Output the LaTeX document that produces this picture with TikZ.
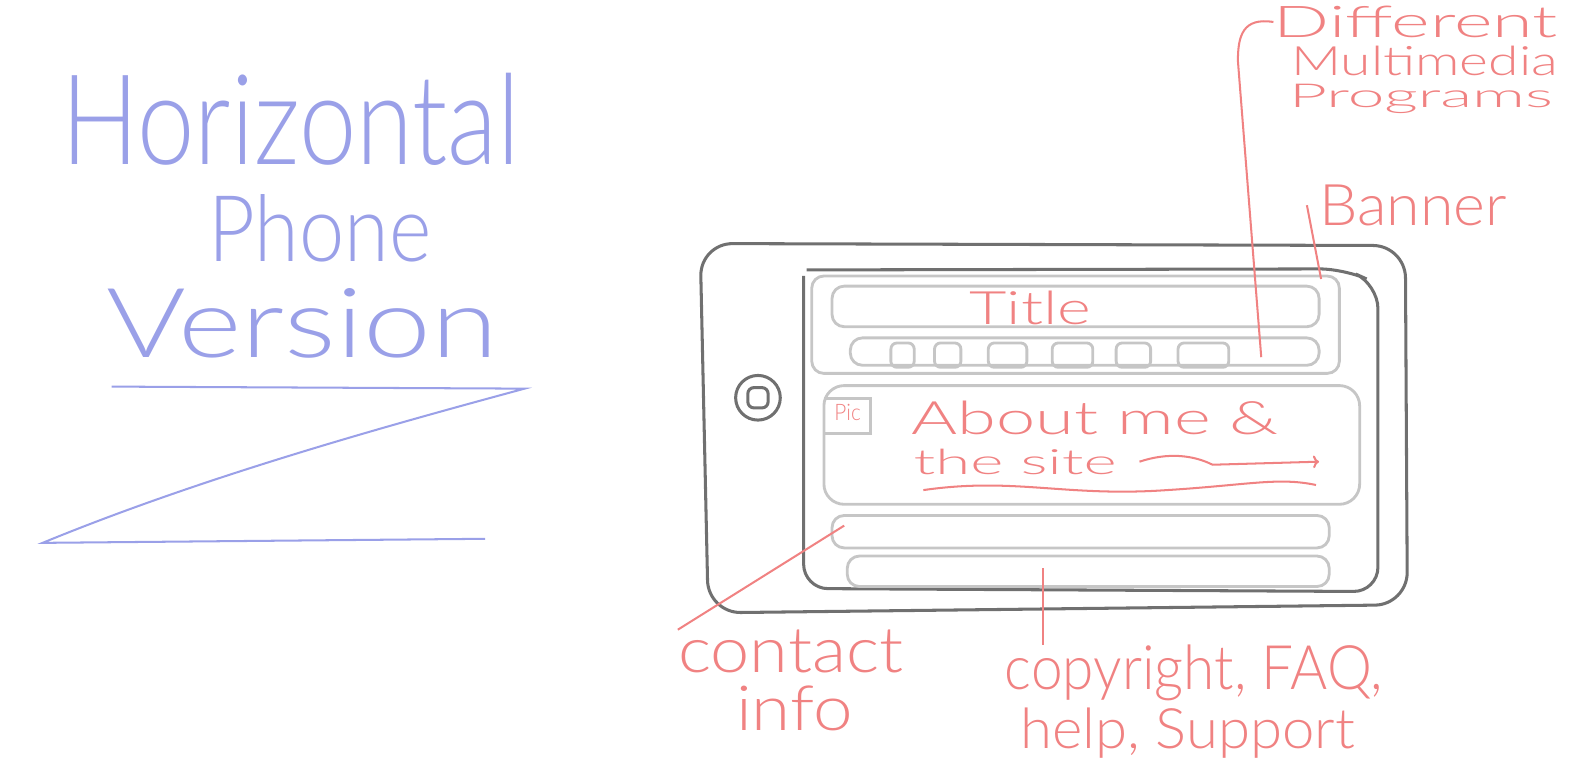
\documentclass[tikz,border=0pt]{standalone}
\usepackage{fontspec}
\usepackage{graphicx}
\usetikzlibrary{arrows.meta}
\newfontfamily\handfont{Lato Light}
\definecolor{PenBlue}{HTML}{9AA0E8}
\definecolor{PenRed}{HTML}{F08282}
\definecolor{PenDark}{HTML}{707070}
\definecolor{PenLight}{HTML}{C6C6C6}
\newdimen\pxu \pxu=0.5pt
\newcommand{\handtext}[3]{\resizebox{#1\pxu}{#2\pxu}{\handfont #3}}
\begin{document}
\begin{tikzpicture}[x=0.5pt,y=-0.5pt,
  phone/.style={PenDark,line width=1.5pt,rounded corners=12pt},
  frame/.style={PenLight,line width=1.4pt,rounded corners=6pt},
  pointer/.style={PenRed,line width=1pt},
  bluepen/.style={PenBlue,line width=1pt},
  hand/.style={inner sep=0pt,anchor=base west}]
\useasboundingbox (0,0) rectangle (1568,762);
\node[hand,text=PenBlue] (head1) at (60,162) {\handtext{452}{90}{Horizontal}};
\node[hand,text=PenBlue] (head2) at (205,258) {\handtext{220}{66}{Phone}};
\node[hand,text=PenBlue] (head3) at (105,352) {\handtext{385}{68}{Version}};
\draw[bluepen] (110,381) -- (517,383) .. controls (380,420) and (200,470) .. (42,535) -- (478,531);
\draw[phone,rounded corners=16pt] (690,240) -- (1385,242) -- (1387,596) -- (698,604) -- cycle;
\draw[phone] (792,272) -- (792,580) -- (1358,583) -- (1358,280) -- (1325,265) -- (795,266);
\draw[phone,rounded corners=8pt] (747,392) circle (22);
\draw[phone,rounded corners=3pt] (737,382) rectangle (757,402);
\draw[frame] (800,272) rectangle (1320,368);
\draw[frame] (820,282) rectangle (1300,322);
\draw[frame] (838,333) rectangle (1300,360);
\foreach \a/\b in {878/901,921/947,974/1012,1037/1077,1100/1134,1161/1211}
  \draw[frame,rounded corners=3pt] (\a,338) rectangle (\b,362);
\draw[frame,rounded corners=10pt] (812,380) rectangle (1340,497);
\draw[frame,rounded corners=0pt] (812,393) -- (858,393) -- (858,427) -- (812,427);
\draw[frame] (820,508) rectangle (1310,540);
\draw[frame] (835,548) rectangle (1310,578);
\node[hand,text=PenRed] (title) at (955,320) {\handtext{120}{33}{Title}};
\node[hand,text=PenRed] (pic) at (822,414) {\handtext{26}{16}{Pic}};
\node[hand,text=PenRed] (about1) at (898,428) {\handtext{362}{33}{About me \&}};
\node[hand,text=PenRed] (about2) at (900,468) {\handtext{200}{25}{the site}};
\draw[pointer,-{To[length=3pt]}] (1123,455) .. controls (1150,446) and (1175,448) .. (1195,458) -- (1300,455);
\draw[pointer] (910,483) .. controls (1000,470) and (1050,490) .. (1150,483) .. controls (1230,478) and (1260,470) .. (1297,478);
\node[hand,text=PenRed] (dmp1) at (1255,37) {\handtext{280}{31}{Different}};
\node[hand,text=PenRed] (dmp2) at (1272,74) {\handtext{263}{29}{Multimedia}};
\node[hand,text=PenRed] (dmp3) at (1270,106) {\handtext{260}{23}{Programs}};
\node[hand,text=PenRed] (banner) at (1300,222) {\handtext{185}{40}{Banner}};
\node[hand,text=PenRed] (contact1) at (668,663) {\handtext{222}{42}{contact}};
\node[hand,text=PenRed] (contact2) at (725,720) {\handtext{115}{44}{info}};
\node[hand,text=PenRed] (copy1) at (990,680) {\handtext{372}{44}{copyright, FAQ,}};
\node[hand,text=PenRed] (copy2) at (1005,738) {\handtext{330}{40}{help, Support}};
\coordinate (tabsEnd) at (1243,352);
\coordinate (bannerTip) at (1302,275);
\coordinate (contactTip) at (832,518);
\coordinate (footerTip) at (1028,560);
\draw[pointer] (dmp1.west) .. controls (1225,17) and (1220,35) .. (1220,60) -- (tabsEnd);
\draw[pointer] ([xshift=-6pt]banner.west) -- (bannerTip);
\draw[pointer] (contactTip) -- (contact1.north west);
\draw[pointer] (footerTip) -- (footerTip |- copy1.north);
\end{tikzpicture}
\end{document}
